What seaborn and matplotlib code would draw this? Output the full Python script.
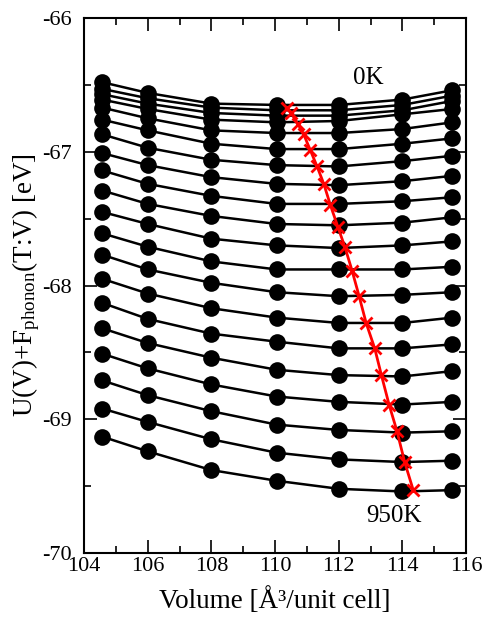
import matplotlib
matplotlib.use("Agg")
import matplotlib.pyplot as plt
from matplotlib.ticker import MultipleLocator
import numpy as np
import pandas as pd
import seaborn as sns

# Volumes of the unit cell [Å^3] at which the free energy was computed
volumes = [104.57, 106.0, 108.0, 110.05, 112.0, 114.0, 115.57]

# Temperatures [K]
temps = list(range(0, 1000, 50))

# U(V) + F_phonon(T;V) [eV], one list per volume, ordered by temperature
e_v1 = [-66.48, -66.53, -66.57, -66.61, -66.67, -66.76, -66.87, -67.01, -67.14, -67.29,
        -67.45, -67.61, -67.77, -67.95, -68.13, -68.32, -68.51, -68.71, -68.92, -69.13]
e_v2 = [-66.56, -66.60, -66.64, -66.68, -66.75, -66.84, -66.97, -67.10, -67.24, -67.39,
        -67.54, -67.71, -67.88, -68.06, -68.25, -68.43, -68.62, -68.82, -69.02, -69.24]
e_v3 = [-66.64, -66.67, -66.71, -66.76, -66.84, -66.94, -67.06, -67.19, -67.33, -67.48,
        -67.65, -67.82, -67.98, -68.17, -68.36, -68.54, -68.74, -68.94, -69.15, -69.38]
e_v4 = [-66.65, -66.69, -66.73, -66.78, -66.86, -66.98, -67.10, -67.24, -67.39, -67.54,
        -67.70, -67.88, -68.05, -68.24, -68.42, -68.63, -68.83, -69.04, -69.25, -69.46]
e_v5 = [-66.65, -66.69, -66.73, -66.77, -66.86, -66.98, -67.11, -67.25, -67.39, -67.55,
        -67.72, -67.88, -68.08, -68.28, -68.47, -68.67, -68.87, -69.08, -69.30, -69.52]
e_v6 = [-66.61, -66.65, -66.69, -66.72, -66.83, -66.94, -67.07, -67.22, -67.37, -67.53,
        -67.70, -67.88, -68.07, -68.28, -68.47, -68.68, -68.89, -69.10, -69.32, -69.54]
e_v7 = [-66.54, -66.58, -66.62, -66.68, -66.78, -66.90, -67.03, -67.18, -67.34, -67.49,
        -67.67, -67.86, -68.05, -68.24, -68.44, -68.64, -68.87, -69.09, -69.31, -69.53]

# Equilibrium volume and free energy at each temperature
min_volume = [110.37, 110.50, 110.71, 110.90, 111.11, 111.32, 111.53, 111.74, 111.97, 112.19,
              112.42, 112.64, 112.86, 113.13, 113.34, 113.58, 113.83, 114.07, 114.34]
min_energy = [-66.67, -66.71, -66.79, -66.87, -66.99, -67.11, -67.24, -67.40, -67.56, -67.71,
              -67.89, -68.08, -68.28, -68.47, -68.67, -68.89, -69.09, -69.32, -69.53]

energy_cols = [e_v1, e_v2, e_v3, e_v4, e_v5, e_v6, e_v7]
rows = []
for ti, t in enumerate(temps):
    for vi, v in enumerate(volumes):
        rows.append({"T": t, "volume": v, "energy": energy_cols[vi][ti]})
df = pd.DataFrame(rows)

sns.set_style("ticks")
plt.rcParams["font.family"] = ["Liberation Serif", "DejaVu Serif"]
plt.rcParams["mathtext.fontset"] = "custom"
plt.rcParams["mathtext.rm"] = "Liberation Serif"
plt.rcParams["mathtext.it"] = "Liberation Serif:italic"
plt.rcParams["axes.unicode_minus"] = False
plt.rcParams["text.color"] = "black"
plt.rcParams["axes.labelcolor"] = "black"

fig = plt.figure(figsize=(4.83, 6.21), dpi=100)
ax = fig.add_axes([0.174, 0.1095, 0.791, 0.8615])

sns.lineplot(data=df, x="volume", y="energy", units="T", estimator=None,
             color="black", linewidth=1.8, marker="o", markersize=12,
             markeredgecolor="black", markeredgewidth=0, legend=False, ax=ax)

sns.lineplot(x=min_volume, y=min_energy, sort=False, color="red", linewidth=2,
             marker="x", markersize=9, markeredgewidth=2, markeredgecolor="red",
             ax=ax, zorder=5)

ax.set_xlim(104, 116)
ax.set_ylim(-70, -66)
ax.xaxis.set_major_locator(MultipleLocator(2))
ax.xaxis.set_minor_locator(MultipleLocator(1))
ax.yaxis.set_major_locator(MultipleLocator(1))
ax.yaxis.set_minor_locator(MultipleLocator(0.5))
ax.tick_params(which="both", direction="in", top=True, right=True, width=1.2,
               labelsize=16, colors="black")
ax.tick_params(which="major", length=9.5)
ax.tick_params(which="minor", length=5)
ax.tick_params(axis="y", pad=9)
ax.tick_params(axis="x", pad=3)
for s in ax.spines.values():
    s.set_linewidth(1.5)
    s.set_color("black")

ax.set_xlabel("Volume [Å³/unit cell]", fontsize=19.5, labelpad=8)
ax.set_ylabel(r"U(V)+F$_{\mathrm{phonon}}$(T:V) [eV]", fontsize=19.5, labelpad=0)

ax.text(112.93, -66.45, "0K", fontsize=18, ha="center", va="center")
ax.text(113.73, -69.72, "950K", fontsize=18, ha="center", va="center")

fig.savefig("out.png", dpi=100)
